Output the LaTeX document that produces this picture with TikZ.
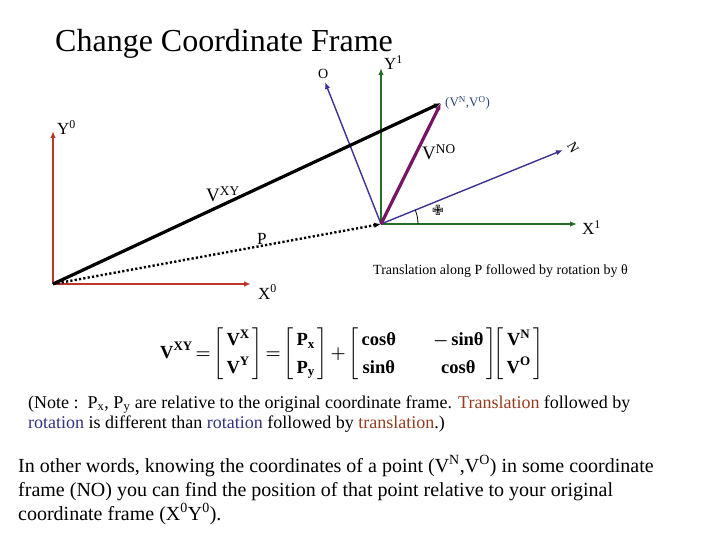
\documentclass[tikz,border=0pt]{standalone}
\usepackage{amsmath}
\usepackage{fontspec}
\setmainfont{Liberation Serif}
\newfontfamily\dejavu{DejaVu Sans}
\usetikzlibrary{arrows.meta,calc}
\definecolor{axred}{RGB}{188,55,38}
\definecolor{axgreen}{RGB}{35,110,35}
\definecolor{axblue}{RGB}{60,50,150}
\definecolor{vpurple}{RGB}{120,20,100}
\definecolor{ptblue}{RGB}{40,70,120}
\definecolor{trbrown}{RGB}{150,60,30}
\definecolor{rotblue}{RGB}{50,50,130}
\tikzset{
  tip/.style={-{Latex[length=7pt,width=5.5pt]}},
  axis/.style={tip,line width=2pt},
  thinaxis/.style={tip,line width=1.4pt,axblue},
  bigvec/.style={tip,line width=3.2pt},
  lbl/.style={inner sep=0pt,anchor=base west,font=\fontsize{17}{17}\selectfont},
  txt/.style={inner sep=0pt,anchor=base west},
  notefont/.style={font=\fontsize{18}{18}\selectfont},
  parafont/.style={font=\fontsize{20}{20}\selectfont}
}
\begin{document}
\begin{tikzpicture}[x=1pt,y=-1pt]
\useasboundingbox (0,0) rectangle (720,540);
% title
\node[txt,font=\fontsize{32}{32}\selectfont] (title) at (55,52) {Change Coordinate Frame};
% frame 0
\coordinate (O0) at (53,284);
\coordinate (Y0t) at (53,131);
\coordinate (X0t) at (251,284);
\draw[axis,axred] (O0) -- (Y0t);
\draw[axis,axred] (O0) -- (X0t);
\node[lbl] (Y0) at (57,135) {Y\textsuperscript{0}};
\node[lbl] (X0) at (258,299) {X\textsuperscript{0}};
% frame 1
\coordinate (O1) at (381,224);
\coordinate (X1t) at (577,224);
\coordinate (Y1t) at (381,68);
\coordinate (Ot) at (325,82);
\coordinate (Nt) at (563,150);
\coordinate (Pt) at (441,103);
\draw[axis,axgreen] (O1) -- (X1t);
\draw[axis,axgreen] (O1) -- (Y1t);
\draw[thinaxis] (O1) -- (Ot);
\draw[thinaxis] (O1) -- (Nt);
\node[lbl] (X1) at (582,235) {X\textsuperscript{1}};
\node[lbl] (Y1) at (384,70) {Y\textsuperscript{1}};
\node[lbl,font=\fontsize{14}{14}\selectfont] (Olab) at (318,79) {O};
\node[inner sep=0pt,rotate=-60,font=\fontsize{14}{14}\selectfont] (Nlab) at (573,148) {N};
% vectors
\draw[bigvec,black] (O0) -- (Pt);
\draw[bigvec,vpurple] (O1) -- (Pt);
\draw[tip,line width=2.4pt,dash pattern=on 2.2pt off 2.2pt] (O0) -- (O1);
\node[lbl,font=\fontsize{19}{19}\selectfont] (Vxy) at (206,202) {V\textsuperscript{XY}};
\node[lbl,font=\fontsize{19}{19}\selectfont] (Vno) at (422,160) {V\textsuperscript{NO}};
\node[lbl] (Plab) at (257,244) {P};
\node[lbl,font=\fontsize{13}{13}\selectfont,text=ptblue] (pt) at (445,107) {(V\textsuperscript{N},V\textsuperscript{O})};
% angle
\draw[line width=0.8pt] ($(O1)+(37,0)$) arc[start angle=0,end angle=22,radius=37pt];
\node[inner sep=0pt,font=\dejavu\fontsize{14}{14}\selectfont] (th) at (438,210) {✙};
\node[txt,font=\fontsize{14}{14}\selectfont] (cap) at (373,274) {Translation along P followed by rotation by θ};
% equation
\node[inner sep=0pt,anchor=west,font=\fontsize{18.5}{24}\selectfont\bfseries] (eq) at (160,354) {%
$\renewcommand{\arraystretch}{1.15}
\textbf{V}^{\textbf{XY}}\,{\boldsymbol{=}}\left[\begin{array}{@{\,}c@{\,}}\textbf{V}^{\textbf{X}}\\ \textbf{V}^{\textbf{Y}}\end{array}\right]{\boldsymbol{=}}
\left[\begin{array}{@{\,}c@{\,}}\textbf{P}_{\textbf{x}}\\ \textbf{P}_{\textbf{y}}\end{array}\right]{\boldsymbol{+}}
\left[\begin{array}{@{\,}c@{\qquad}c@{\,}}\textbf{cosθ} & {\boldsymbol{-}}\,\textbf{sinθ}\\ \textbf{sinθ} & \textbf{cosθ}\end{array}\right]\!\!
\left[\begin{array}{@{\,}c@{\,}}\textbf{V}^{\textbf{N}}\\ \textbf{V}^{\textbf{O}}\end{array}\right]$};
% note
\node[txt,notefont] (note1) at (28,408) {(Note :\ \ P\textsubscript{x}, P\textsubscript{y} are relative to the original coordinate frame. \textcolor{trbrown}{Translation} followed by};
\node[txt,notefont] (note2) at (28,428) {\textcolor{rotblue}{rotation} is different than \textcolor{rotblue}{rotation} followed by \textcolor{trbrown}{translation}.)};
% paragraph
\node[txt,parafont] (para1) at (18,472) {In other words, knowing the coordinates of a point (V\textsuperscript{N},V\textsuperscript{O}) in some coordinate};
\node[txt,parafont] (para2) at (18,496) {frame (NO) you can find the position of that point relative to your original};
\node[txt,parafont] (para3) at (18,520) {coordinate frame (X\textsuperscript{0}Y\textsuperscript{0}).};
\end{tikzpicture}
\end{document}
